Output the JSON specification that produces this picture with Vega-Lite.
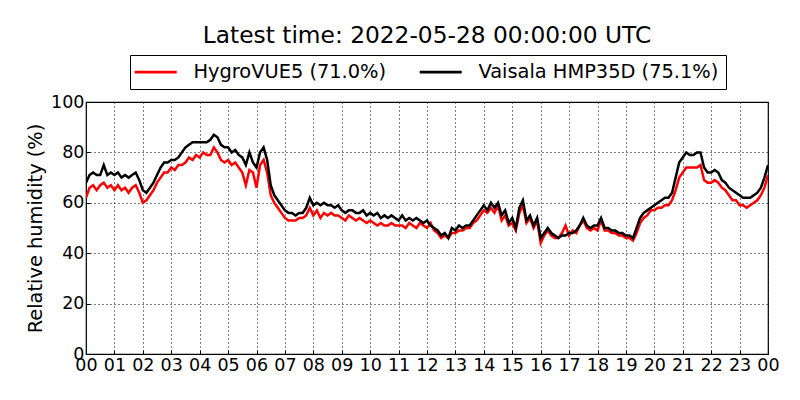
{
  "$schema": "https://vega.github.io/schema/vega-lite/v6.json",
  "width": 682,
  "height": 252,
  "autosize": "none",
  "padding": {"left": 86, "top": 102, "right": 32, "bottom": 46},
  "config": {
    "font": "DejaVu Sans",
    "view": {"stroke": "black", "strokeWidth": 1.2},
    "axis": {"labelFont": "DejaVu Sans", "titleFont": "DejaVu Sans", "labelColor": "black", "titleColor": "black", "domain": false, "tickColor": "black", "gridColor": "black", "gridDash": [1, 3], "gridOpacity": 1, "gridWidth": 1}
  },
  "title": {"text": "Latest time: 2022-05-28 00:00:00 UTC", "fontSize": 23.3, "fontWeight": "normal", "font": "DejaVu Sans", "anchor": "middle", "offset": 6, "color": "black"},
  "data": {"values": [
    {"h":0.000,"r":62,"b":68},{"h":0.125,"r":66,"b":71},{"h":0.250,"r":67,"b":72},{"h":0.375,"r":65,"b":71},{"h":0.500,"r":67,"b":71},{"h":0.625,"r":68,"b":75},{"h":0.750,"r":66,"b":71},{"h":0.875,"r":67,"b":72},
    {"h":1.000,"r":65,"b":71},{"h":1.125,"r":67,"b":72},{"h":1.250,"r":65,"b":70},{"h":1.375,"r":66,"b":71},{"h":1.500,"r":64,"b":70},{"h":1.625,"r":66,"b":71},{"h":1.750,"r":67,"b":72},{"h":1.875,"r":64,"b":69},
    {"h":2.000,"r":60,"b":65},{"h":2.125,"r":61,"b":64},{"h":2.250,"r":63,"b":66},{"h":2.375,"r":65,"b":68},{"h":2.500,"r":68,"b":71},{"h":2.625,"r":70,"b":74},{"h":2.750,"r":72,"b":76},{"h":2.875,"r":72,"b":76},
    {"h":3.000,"r":74,"b":77},{"h":3.125,"r":73,"b":77},{"h":3.250,"r":75,"b":78},{"h":3.375,"r":75,"b":80},{"h":3.500,"r":76,"b":82},{"h":3.625,"r":78,"b":83},{"h":3.750,"r":77,"b":84},{"h":3.875,"r":79,"b":84},
    {"h":4.000,"r":78,"b":84},{"h":4.125,"r":80,"b":84},{"h":4.250,"r":79,"b":84},{"h":4.375,"r":79,"b":85},{"h":4.500,"r":82,"b":87},{"h":4.625,"r":80,"b":86},{"h":4.750,"r":77,"b":83},{"h":4.875,"r":76,"b":82},
    {"h":5.000,"r":77,"b":82},{"h":5.125,"r":75,"b":80},{"h":5.250,"r":76,"b":81},{"h":5.375,"r":74,"b":79},{"h":5.500,"r":72,"b":78},{"h":5.625,"r":67,"b":75},{"h":5.750,"r":73,"b":80},{"h":5.875,"r":72,"b":76},
    {"h":6.000,"r":66,"b":74},{"h":6.125,"r":75,"b":80},{"h":6.250,"r":77,"b":82},{"h":6.375,"r":72,"b":77},{"h":6.500,"r":63,"b":67},{"h":6.625,"r":60,"b":63},{"h":6.750,"r":58,"b":61},{"h":6.875,"r":56,"b":59},
    {"h":7.000,"r":54,"b":57},{"h":7.125,"r":53,"b":56},{"h":7.250,"r":53,"b":56},{"h":7.375,"r":53,"b":55},{"h":7.500,"r":54,"b":56},{"h":7.625,"r":54,"b":56},{"h":7.750,"r":55,"b":58},{"h":7.875,"r":58,"b":62},
    {"h":8.000,"r":55,"b":59},{"h":8.125,"r":57,"b":60},{"h":8.250,"r":54,"b":59},{"h":8.375,"r":56,"b":60},{"h":8.500,"r":55,"b":59},{"h":8.625,"r":56,"b":59},{"h":8.750,"r":55,"b":58},{"h":8.875,"r":55,"b":59},
    {"h":9.000,"r":54,"b":57},{"h":9.125,"r":53,"b":56},{"h":9.250,"r":55,"b":57},{"h":9.375,"r":54,"b":57},{"h":9.500,"r":53,"b":56},{"h":9.625,"r":54,"b":56},{"h":9.750,"r":53,"b":57},{"h":9.875,"r":52,"b":55},
    {"h":10.000,"r":53,"b":56},{"h":10.125,"r":52,"b":55},{"h":10.250,"r":51,"b":56},{"h":10.375,"r":52,"b":54},{"h":10.500,"r":51,"b":55},{"h":10.625,"r":51,"b":54},{"h":10.750,"r":52,"b":55},{"h":10.875,"r":51,"b":54},
    {"h":11.000,"r":51,"b":53},{"h":11.125,"r":51,"b":55},{"h":11.250,"r":50,"b":53},{"h":11.375,"r":52,"b":54},{"h":11.500,"r":51,"b":53},{"h":11.625,"r":50,"b":54},{"h":11.750,"r":52,"b":53},{"h":11.875,"r":51,"b":52},
    {"h":12.000,"r":50,"b":53},{"h":12.125,"r":52,"b":51},{"h":12.250,"r":49,"b":50},{"h":12.375,"r":48,"b":49},{"h":12.500,"r":46,"b":47},{"h":12.625,"r":47,"b":48},{"h":12.750,"r":46,"b":46},{"h":12.875,"r":48,"b":50},
    {"h":13.000,"r":48,"b":49},{"h":13.125,"r":49,"b":51},{"h":13.250,"r":49,"b":50},{"h":13.375,"r":50,"b":51},{"h":13.500,"r":50,"b":51},{"h":13.625,"r":52,"b":53},{"h":13.750,"r":53,"b":55},{"h":13.875,"r":55,"b":57},
    {"h":14.000,"r":57,"b":59},{"h":14.125,"r":56,"b":57},{"h":14.250,"r":58,"b":60},{"h":14.375,"r":56,"b":58},{"h":14.500,"r":59,"b":60},{"h":14.625,"r":53,"b":55},{"h":14.750,"r":55,"b":57},{"h":14.875,"r":51,"b":52},
    {"h":15.000,"r":52,"b":54},{"h":15.125,"r":49,"b":50},{"h":15.250,"r":56,"b":58},{"h":15.375,"r":59,"b":61},{"h":15.500,"r":52,"b":53},{"h":15.625,"r":54,"b":55},{"h":15.750,"r":50,"b":51},{"h":15.875,"r":53,"b":54},
    {"h":16.000,"r":44,"b":46},{"h":16.125,"r":47,"b":48},{"h":16.250,"r":49,"b":50},{"h":16.375,"r":47,"b":48},{"h":16.500,"r":46,"b":47},{"h":16.625,"r":46,"b":46},{"h":16.750,"r":48,"b":47},{"h":16.875,"r":51,"b":47},
    {"h":17.000,"r":47,"b":48},{"h":17.125,"r":49,"b":48},{"h":17.250,"r":48,"b":49},{"h":17.375,"r":51,"b":51},{"h":17.500,"r":53,"b":54},{"h":17.625,"r":50,"b":51},{"h":17.750,"r":49,"b":50},{"h":17.875,"r":50,"b":51},
    {"h":18.000,"r":49,"b":51},{"h":18.125,"r":53,"b":54},{"h":18.250,"r":49,"b":50},{"h":18.375,"r":49,"b":50},{"h":18.500,"r":48,"b":49},{"h":18.625,"r":48,"b":49},{"h":18.750,"r":47,"b":48},{"h":18.875,"r":47,"b":48},
    {"h":19.000,"r":46,"b":47},{"h":19.125,"r":46,"b":47},{"h":19.250,"r":45,"b":46},{"h":19.375,"r":48,"b":50},{"h":19.500,"r":52,"b":54},{"h":19.625,"r":54,"b":56},{"h":19.750,"r":55,"b":57},{"h":19.875,"r":57,"b":58},
    {"h":20.000,"r":57,"b":59},{"h":20.125,"r":58,"b":60},{"h":20.250,"r":58,"b":61},{"h":20.375,"r":59,"b":62},{"h":20.500,"r":59,"b":62},{"h":20.625,"r":61,"b":64},{"h":20.750,"r":65,"b":70},{"h":20.875,"r":70,"b":76},
    {"h":21.000,"r":72,"b":78},{"h":21.125,"r":74,"b":80},{"h":21.250,"r":74,"b":79},{"h":21.375,"r":74,"b":79},{"h":21.500,"r":74,"b":80},{"h":21.625,"r":75,"b":80},{"h":21.750,"r":69,"b":74},{"h":21.875,"r":68,"b":72},
    {"h":22.000,"r":68,"b":72},{"h":22.125,"r":69,"b":73},{"h":22.250,"r":68,"b":72},{"h":22.375,"r":66,"b":69},{"h":22.500,"r":65,"b":68},{"h":22.625,"r":63,"b":66},{"h":22.750,"r":61,"b":65},{"h":22.875,"r":61,"b":64},
    {"h":23.000,"r":59,"b":63},{"h":23.125,"r":59,"b":62},{"h":23.250,"r":58,"b":62},{"h":23.375,"r":59,"b":62},{"h":23.500,"r":60,"b":63},{"h":23.625,"r":61,"b":64},{"h":23.750,"r":63,"b":66},{"h":23.875,"r":66,"b":70},
    {"h":24.000,"r":71,"b":75}
  ]},
  "encoding": {
    "x": {"field": "h", "type": "quantitative", "scale": {"domain": [0, 24], "nice": false, "zero": false},
      "axis": {"title": null, "values": [0,1,2,3,4,5,6,7,8,9,10,11,12,13,14,15,16,17,18,19,20,21,22,23,24], "labelExpr": "(datum.value % 24) < 10 ? '0' + (datum.value % 24) : '' + (datum.value % 24)", "labelFontSize": 17.5, "labelPadding": 6, "tickSize": -4, "labelFlush": false, "labelOverlap": false, "grid": true}}
  },
  "layer": [
    {
      "mark": {"type": "line", "strokeWidth": 2.5, "clip": true},
      "encoding": {
        "y": {"field": "r", "type": "quantitative", "scale": {"domain": [0, 100], "nice": false},
          "axis": {"title": "Relative humidity (%)", "titleFontSize": 19.4, "titleFontWeight": "normal", "titlePadding": 5, "values": [0,20,40,60,80,100], "labelFontSize": 17.5, "labelPadding": 6, "tickSize": -4, "grid": true, "labelFlush": false}},
        "color": {"datum": "HygroVUE5 (71.0%)", "type": "nominal", "scale": {"domain": ["HygroVUE5 (71.0%)", "Vaisala HMP35D (75.1%)"], "range": ["#ff0000", "#000000"]},
          "legend": {"title": null, "orient": "none", "legendX": 44, "legendY": -47, "direction": "horizontal", "columns": 2, "symbolType": "M-2.4,0H6", "symbolSize": 100, "symbolStrokeWidth": 2.7, "labelFontSize": 19.4, "labelFont": "DejaVu Sans", "labelColor": "black", "labelLimit": 400, "strokeColor": "black", "padding": 7, "columnPadding": 27, "labelOffset": 37, "fillColor": "white"}}
      }
    },
    {
      "mark": {"type": "line", "strokeWidth": 2.5, "clip": true},
      "encoding": {
        "y": {"field": "b", "type": "quantitative", "scale": {"domain": [0, 100], "nice": false},
          "axis": {"title": "Relative humidity (%)", "titleFontSize": 19.4, "titleFontWeight": "normal", "titlePadding": 5, "values": [0,20,40,60,80,100], "labelFontSize": 17.5, "labelPadding": 6, "tickSize": -4, "grid": true, "labelFlush": false}},
        "color": {"datum": "Vaisala HMP35D (75.1%)", "type": "nominal"}
      }
    }
  ]
}
